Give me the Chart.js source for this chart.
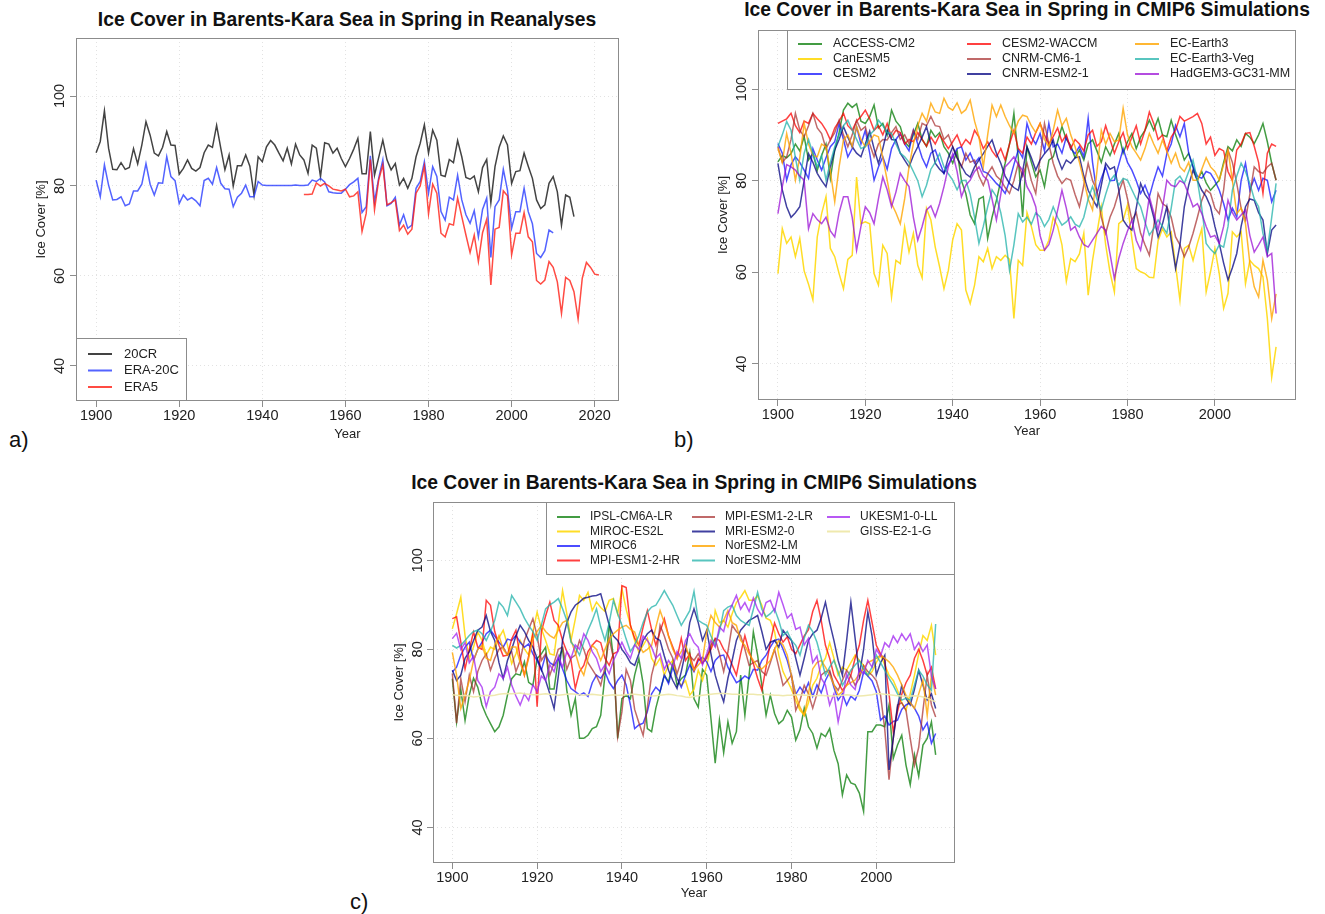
<!DOCTYPE html>
<html>
<head>
<meta charset="utf-8">
<script src="https://cdn.jsdelivr.net/npm/chart.js@4.4.1/dist/chart.umd.min.js"></script>
<style>
  html, body { margin:0; padding:0; background:#fff; width:1325px; height:914px; overflow:hidden;
               font-family:"Liberation Sans", Arial, sans-serif; }
  canvas { position:absolute; }
  .title { position:absolute; transform:translate(-50%,-50%); white-space:nowrap;
           font-weight:bold; font-size:19.3px; color:#111; }
  .tag { position:absolute; transform:translateY(-50%); font-size:22px; color:#111; }
</style>
</head>
<body>

<div class="title" style="left:347px; top:20px;">Ice Cover in Barents-Kara Sea in Spring in Reanalyses</div>
<div class="title" style="left:1027px; top:10px;">Ice Cover in Barents-Kara Sea in Spring in CMIP6 Simulations</div>
<div class="title" style="left:694px; top:483px;">Ice Cover in Barents-Kara Sea in Spring in CMIP6 Simulations</div>
<div class="tag" style="left:9px; top:440px;">a)</div>
<div class="tag" style="left:674px; top:440px;">b)</div>
<div class="tag" style="left:350px; top:902px;">c)</div>

<canvas id="chartA" width="640" height="455" style="left:0px; top:0px;"></canvas>
<canvas id="chartB" width="645" height="450" style="left:680px; top:0px;"></canvas>
<canvas id="chartC" width="620" height="440" style="left:360px; top:470px;"></canvas>

<script>
// ---------- data ----------
const yTicks = [40, 60, 80, 100];
const xTicks = [1900, 1920, 1940, 1960, 1980, 2000, 2020];

const first20CR = 1900, firstERA20C = 1900, firstERA5 = 1950, firstCMIP = 1900;

// panel a: reanalyses
const cr20 = [
  87.4, 89.9, 96.7, 88.4, 83.7, 83.6, 85.2, 83.7, 84.1, 88.3,
  84.9, 89.1, 94.3, 91.3, 87.3, 86.7, 88.6, 92.1, 89.1, 89.0,
  82.6, 83.9, 85.8, 83.9, 83.3, 84.1, 87.4, 89.1, 88.6, 93.5,
  88.4, 83.6, 86.9, 80.0, 84.5, 84.5, 86.9, 84.4, 78.0, 86.5,
  85.4, 88.7, 90.1, 89.1, 87.3, 85.6, 88.4, 84.9, 89.3, 86.9,
  85.8, 82.8, 89.1, 88.4, 82.1, 89.6, 89.3, 87.3, 88.4, 86.1,
  84.3, 86.1, 88.2, 90.6, 82.7, 82.7, 92.1, 82.4, 86.3, 90.2,
  85.8, 83.6, 85.0, 80.2, 81.7, 79.5, 81.7, 86.5, 89.5, 93.6,
  87.3, 92.4, 90.2, 82.4, 82.1, 85.9, 85.2, 90.1, 86.5, 81.9,
  81.5, 82.2, 78.7, 84.1, 85.9, 76.3, 84.3, 88.6, 91.1, 89.1,
  80.6, 83.2, 83.4, 87.3, 84.4, 81.7, 76.9, 75.0, 75.8, 80.6,
  82.1, 78.7, 71.3, 78.0, 77.5, 73.2
];
const era20c = [
  81.3, 77.6, 84.7, 80.2, 76.9, 77.0, 77.6, 75.6, 76.0, 78.9,
  78.9, 80.4, 85.0, 80.4, 78.0, 80.7, 80.6, 86.5, 82.1, 81.2,
  76.1, 78.0, 76.9, 77.4, 76.7, 75.6, 81.2, 81.7, 80.4, 84.1,
  80.6, 79.4, 79.3, 75.4, 77.5, 78.4, 80.2, 77.6, 77.6, 81.0,
  80.2, 80.1, 80.1, 80.1, 80.1, 80.1, 80.1, 80.1, 80.2, 80.1,
  80.1, 80.2, 81.3, 81.0, 81.7, 80.9, 78.7, 78.5, 78.4, 78.4,
  79.3, 80.3, 80.9, 81.7, 74.1, 75.4, 86.7, 76.5, 81.7, 85.8,
  75.6, 76.1, 77.5, 71.3, 73.6, 70.6, 71.3, 79.5, 81.0, 85.4,
  78.4, 84.3, 82.1, 74.3, 72.4, 77.5, 76.9, 82.4, 76.9, 73.6,
  71.7, 74.5, 68.7, 74.8, 77.3, 64.1, 75.4, 76.9, 83.7, 79.1,
  70.6, 74.3, 74.3, 79.5, 74.3, 71.6, 65.0, 64.1, 65.6, 70.2,
  69.6
];
const era5 = [
  78.1, 78.1, 78.2, 80.7, 80.0, 80.6, 80.0, 79.3, 79.1, 78.9,
  79.3, 77.6, 77.8, 78.7, 69.9, 73.9, 85.9, 74.7, 81.3, 84.7,
  75.8, 76.3, 76.9, 70.1, 71.3, 69.3, 70.4, 78.4, 80.0, 84.4,
  73.8, 80.4, 78.4, 69.5, 68.7, 71.6, 71.3, 77.3, 73.2, 69.1,
  65.2, 69.1, 63.2, 69.6, 72.6, 58.0, 70.4, 70.8, 78.9, 77.8,
  64.7, 69.5, 69.5, 74.1, 68.7, 67.6, 59.0, 58.2, 59.1, 63.2,
  61.9, 58.7, 51.7, 59.7, 59.0, 56.5, 50.4, 59.5, 63.0, 61.9,
  60.4, 60.2
];

// panel b: CMIP6 models (1900-2014)
const accessCM2 = [
  84.1, 85.5, 85.0, 85.9, 88.0, 86.5, 89.6, 84.5, 86.0, 82.3,
  85.5, 88.0, 80.5, 86.7, 90.5, 95.4, 96.9, 96.0, 96.8, 93.0,
  92.5, 94.0, 96.5, 91.5, 92.5, 90.0, 95.4, 93.0, 91.8, 88.5,
  87.4, 90.0, 92.5, 89.0, 87.5, 91.0, 89.5, 90.5, 87.4, 86.0,
  83.8, 86.5, 80.0, 77.2, 72.5, 70.6, 76.0, 76.5, 67.4, 72.0,
  75.7, 80.0, 83.8, 88.0, 94.7, 85.0, 72.1, 87.4, 84.0, 80.8,
  82.3, 78.7, 84.5, 85.2, 88.5, 91.8, 89.0, 87.7, 85.0, 86.7,
  84.5, 88.0, 88.9, 86.5, 84.0, 87.4, 85.5, 88.0, 90.3, 86.0,
  88.5, 90.3, 87.0, 89.5, 91.0, 93.2, 91.0, 93.6, 90.0, 89.6,
  93.2, 90.0, 87.5, 84.5, 86.0, 83.0, 80.1, 82.0, 79.5, 77.9,
  79.0, 80.1, 84.0, 87.4, 86.5, 88.9, 87.5, 90.3, 89.5, 88.1,
  90.0, 92.5, 88.5, 83.8, 80.1
];
const canESM5 = [
  59.7, 69.5, 66.3, 67.7, 63.4, 67.4, 60.3, 57.4, 54.0, 67.7,
  72.8, 76.5, 65.2, 63.4, 59.7, 56.4, 62.8, 63.7, 80.8, 70.6,
  71.0, 70.6, 59.7, 57.2, 65.9, 64.1, 54.6, 62.6, 61.9, 69.9,
  64.4, 68.5, 61.5, 58.8, 73.9, 71.4, 65.5, 61.2, 56.4, 60.4,
  67.1, 70.6, 69.2, 56.1, 53.2, 57.2, 63.4, 62.3, 65.2, 60.8,
  63.4, 62.6, 63.7, 62.8, 49.9, 62.6, 61.5, 73.0, 70.0, 66.0,
  64.8, 64.8, 67.0, 72.0, 70.0, 66.0, 58.0, 63.0, 62.3, 64.0,
  68.5, 55.0, 62.6, 68.5, 74.3, 66.0, 60.0, 55.7, 70.6, 71.4,
  74.7, 67.4, 60.8, 60.1, 59.7, 58.9, 58.8, 66.9, 69.5, 67.7,
  68.8, 61.5, 53.9, 65.2, 65.9, 62.6, 66.3, 69.5, 55.7, 60.1,
  65.2, 59.7, 52.1, 55.4, 68.8, 67.7, 68.8, 57.5, 62.6, 61.5,
  60.8, 59.0, 49.9, 37.1, 43.7
];
const cesm2 = [
  88.1, 86.0, 80.1, 83.5, 85.2, 84.0, 82.3, 80.5, 87.0, 84.5,
  82.3, 85.0, 87.4, 88.5, 92.5, 89.0, 85.2, 87.0, 91.8, 88.0,
  91.0, 86.0, 80.1, 83.0, 85.2, 82.5, 87.0, 89.0, 90.3, 88.0,
  86.5, 91.0, 88.0, 85.0, 83.0, 86.0, 86.7, 84.0, 81.6, 83.5,
  85.2, 87.0, 87.4, 84.5, 86.0, 83.8, 85.0, 82.0, 81.6, 80.5,
  79.4, 78.5, 77.2, 80.0, 83.5, 86.7, 85.0, 92.5, 89.5, 88.0,
  90.3, 86.5, 92.5, 87.4, 88.0, 86.0, 89.6, 87.0, 85.9, 87.5,
  85.2, 93.6, 84.0, 77.2, 80.5, 83.0, 80.0, 80.1, 83.5, 87.0,
  84.0, 82.3, 80.0, 77.2, 79.0, 76.5, 80.0, 83.0, 81.0, 85.9,
  88.0, 92.1, 89.6, 92.5, 86.0, 83.0, 81.0, 80.5, 82.0, 81.6,
  80.0, 77.9, 75.0, 71.4, 74.0, 72.1, 80.0, 83.8, 77.9, 80.5,
  77.9, 80.5, 80.1, 75.4, 77.9
];
const cesm2Waccm = [
  92.5, 93.0, 93.5, 94.7, 92.0, 90.5, 93.0, 92.5, 94.7, 93.5,
  92.5, 91.0, 88.9, 91.5, 93.0, 94.7, 92.0, 91.0, 93.0, 94.0,
  95.4, 93.5, 91.0, 92.0, 90.0, 92.5, 89.5, 91.0, 90.5, 88.0,
  89.0, 88.5, 90.5, 89.0, 87.5, 89.5, 88.0, 90.0, 88.5, 87.0,
  88.5, 90.0, 87.5, 89.0, 88.0, 91.0, 89.5, 87.0, 88.5, 86.5,
  85.2, 87.0, 84.5, 88.0, 91.0, 87.0, 86.0, 89.5, 88.0, 90.5,
  92.5, 90.0, 88.0, 89.6, 91.5, 88.5, 90.0, 87.0, 89.0, 88.0,
  86.5, 90.0, 91.0, 87.5, 88.5, 92.0, 89.0, 86.0, 88.5, 90.5,
  87.0, 89.5, 92.0, 88.0, 91.0, 95.0, 92.5, 89.0, 90.0, 86.5,
  89.5, 91.0, 94.0, 93.0, 93.5, 94.0, 94.7, 92.5, 88.0, 89.5,
  85.5, 87.0, 86.5, 82.0, 80.0, 86.7, 88.0, 90.3, 90.5, 87.5,
  84.0, 77.2, 86.0, 88.0, 87.5
];
const cnrmCM61 = [
  87.4, 84.0, 85.2, 89.0, 94.7, 91.0, 89.6, 92.0, 94.7, 91.5,
  90.3, 87.0, 88.9, 90.5, 93.2, 90.0, 87.4, 90.0, 93.2, 91.0,
  91.8, 88.0, 85.2, 88.0, 89.0, 88.9, 90.5, 91.8, 89.0, 90.0,
  88.1, 91.0, 89.0, 92.5, 92.0, 94.0, 92.0, 91.8, 89.0, 90.0,
  87.4, 85.0, 83.0, 86.0, 84.0, 84.5, 81.0, 79.0, 81.5, 83.0,
  81.0, 80.1, 78.5, 77.2, 80.0, 83.8, 81.0, 83.8, 80.0, 77.2,
  85.0, 92.5, 88.0, 83.8, 81.0, 79.4, 80.5, 80.1, 77.0, 74.3,
  79.0, 83.8, 80.0, 77.9, 72.0, 68.5, 72.0, 74.3, 77.5, 80.1,
  76.0, 71.4, 73.0, 68.5, 66.0, 63.7, 70.0, 77.2, 75.0, 74.3,
  72.0, 67.7, 66.0, 63.4, 65.5, 68.5, 72.0, 75.7, 78.0, 77.2,
  74.0, 72.8, 78.0, 86.7, 84.0, 79.4, 74.0, 71.4, 77.0, 83.0,
  82.0, 81.6, 83.0, 83.8, 80.1
];
const cnrmESM21 = [
  83.8, 78.0, 74.3, 72.0, 73.0, 74.3, 80.0, 85.9, 84.0, 81.6,
  80.0, 78.7, 83.0, 86.7, 89.0, 91.8, 89.5, 87.4, 86.0, 85.2,
  88.0, 90.8, 87.0, 83.8, 87.0, 91.0, 89.0, 88.9, 86.0, 84.5,
  83.0, 85.5, 87.4, 89.5, 91.8, 88.0, 83.8, 82.5, 81.6, 85.0,
  87.4, 85.0, 83.2, 81.5, 80.8, 83.0, 84.5, 85.9, 87.5, 88.9,
  86.0, 83.8, 81.0, 79.4, 78.5, 77.9, 82.0, 87.4, 85.0, 82.3,
  84.5, 85.9, 87.0, 88.9, 85.0, 82.5, 84.5, 83.8, 85.0, 85.2,
  81.0, 77.9, 76.0, 74.3, 79.0, 83.8, 82.5, 83.0, 78.0, 71.4,
  70.0, 69.2, 74.0, 79.4, 77.0, 75.7, 72.0, 67.7, 70.5, 74.3,
  67.0, 60.8, 66.0, 74.3, 79.0, 82.3, 80.0, 77.9, 76.5, 74.3,
  70.0, 66.3, 62.0, 58.3, 61.0, 64.1, 70.0, 74.3, 76.0, 75.7,
  73.0, 71.4, 64.1, 69.2, 70.3
];
const ecEarth3 = [
  87.0, 84.0, 90.3, 86.0, 80.1, 85.0, 92.5, 88.0, 85.5, 85.2,
  88.0, 87.4, 82.0, 75.4, 83.0, 88.9, 90.0, 87.5, 91.8, 89.0,
  87.4, 88.5, 90.0, 89.6, 85.0, 80.1, 75.0, 73.0, 70.6, 76.0,
  83.0, 88.0, 92.0, 94.7, 93.0, 96.9, 95.0, 94.7, 98.0, 96.0,
  95.4, 97.0, 94.7, 95.5, 97.6, 93.0, 89.6, 83.0, 90.0, 96.5,
  94.0, 96.5, 94.0, 92.0, 90.3, 93.0, 94.3, 94.0, 92.0, 90.5,
  92.5, 89.0, 87.4, 91.0, 95.4, 92.0, 93.6, 90.0, 87.4, 84.0,
  80.1, 76.0, 73.6, 82.0, 91.0, 88.0, 90.3, 88.5, 88.9, 95.8,
  90.0, 87.4, 86.0, 84.5, 87.0, 90.3, 88.0, 86.0, 88.9, 86.5,
  83.8, 86.0, 83.0, 82.0, 84.0, 80.1, 80.1, 82.5, 85.0, 83.0,
  82.0, 80.1, 83.5, 86.7, 80.0, 72.8, 74.0, 70.6, 62.0, 56.8,
  54.6, 62.6, 58.3, 49.9, 55.3
];
const ecEarth3Veg = [
  87.4, 90.0, 92.9, 91.0, 85.0, 80.1, 86.0, 89.0, 86.0, 83.0,
  85.5, 80.1, 84.0, 87.4, 90.0, 92.0, 93.2, 91.0, 89.0, 87.0,
  87.4, 90.0, 91.0, 93.2, 92.0, 90.5, 90.3, 88.0, 86.0, 85.2,
  84.0, 82.0, 80.0, 76.5, 79.0, 82.5, 84.0, 85.9, 83.0, 81.5,
  80.1, 78.0, 80.0, 80.1, 77.0, 72.0, 66.3, 70.0, 74.3, 78.0,
  76.5, 73.0, 68.0, 60.4, 66.0, 72.8, 71.0, 72.0, 70.5, 73.0,
  72.1, 70.0, 71.5, 74.3, 72.0, 70.3, 71.0, 72.1, 70.5, 69.9,
  72.0, 76.0, 78.7, 76.0, 73.6, 77.0, 80.0, 81.2, 79.0, 80.5,
  80.1, 78.0, 76.0, 74.3, 71.0, 68.1, 69.5, 71.4, 70.0, 68.5,
  74.0, 80.1, 81.0, 79.4, 82.0, 84.5, 80.0, 74.0, 66.3, 65.0,
  64.1, 66.0, 65.5, 70.0, 77.9, 81.0, 83.8, 82.0, 79.4, 76.0,
  74.3, 68.5, 64.8, 72.0, 79.4
];
const hadGEM3 = [
  72.8, 78.7, 83.5, 83.0, 82.3, 81.0, 80.1, 69.5, 72.8, 71.5,
  70.6, 72.0, 69.0, 67.7, 73.0, 76.5, 76.5, 72.0, 64.8, 70.0,
  74.3, 73.0, 70.6, 76.0, 80.8, 78.0, 74.3, 77.5, 81.6, 80.0,
  78.7, 72.0, 67.0, 70.0, 73.6, 74.5, 72.1, 75.0, 78.7, 83.0,
  85.9, 82.0, 76.5, 79.0, 80.1, 82.0, 83.0, 81.0, 80.1, 76.0,
  71.4, 77.0, 83.0, 84.0, 85.2, 83.5, 82.3, 78.7, 77.0, 74.3,
  68.0, 64.8, 66.0, 69.2, 73.5, 77.9, 74.0, 69.2, 70.0, 67.7,
  66.0, 65.5, 67.0, 68.5, 70.0, 69.2, 64.0, 58.6, 63.0, 66.3,
  69.0, 71.4, 67.0, 64.8, 70.0, 76.5, 73.0, 69.2, 74.0, 80.1,
  79.0, 78.7, 80.0, 79.4, 77.0, 74.3, 75.0, 72.8, 70.0, 67.7,
  68.0, 66.3, 70.0, 75.7, 73.0, 71.4, 72.5, 73.6, 68.0, 64.4,
  66.0, 67.7, 63.4, 64.1, 51.0
];

// panel c: CMIP6 models (1900-2014)
const ipslCM6A = [
  73.4, 63.7, 71.0, 64.0, 69.7, 73.5, 71.5, 67.5, 65.2, 63.3,
  61.5, 62.6, 65.2, 69.7, 73.4, 74.5, 74.2, 77.2, 72.6, 71.9,
  77.9, 79.0, 80.5, 71.1, 71.1, 77.9, 80.1, 70.8, 65.2, 68.9,
  60.0, 60.0, 60.7, 62.2, 62.6, 65.2, 74.2, 86.1, 77.9, 60.0,
  68.9, 69.7, 68.9, 74.2, 77.9, 72.3, 62.2, 61.5, 66.8, 70.5,
  74.2, 72.7, 77.2, 71.9, 73.4, 74.2, 79.3, 68.9, 67.0, 75.5,
  74.2, 64.4, 54.4, 64.1, 56.8, 63.7, 58.9, 61.5, 74.2, 65.2,
  74.2, 83.9, 78.7, 71.9, 65.2, 69.7, 65.6, 63.3, 64.1, 66.3,
  64.8, 59.6, 61.9, 66.8, 62.6, 61.1, 57.8, 61.1, 60.4, 62.2,
  57.3, 54.3, 47.3, 51.8, 50.0, 49.6, 47.7, 43.6, 61.5, 61.5,
  63.0, 63.0, 62.6, 67.5, 55.5, 58.5, 60.7, 54.0, 49.6, 56.3,
  51.5, 58.5, 60.0, 63.7, 56.3
];
const mirocES2L = [
  84.6, 88.0, 91.7, 83.1, 77.9, 80.5, 83.9, 82.0, 78.7, 80.5,
  80.0, 82.6, 84.3, 81.0, 76.8, 79.0, 82.0, 80.1, 78.7, 84.0,
  88.4, 84.6, 82.0, 79.0, 78.7, 86.0, 93.2, 88.0, 82.0, 86.8,
  92.1, 91.0, 92.8, 88.7, 90.6, 89.4, 88.5, 91.0, 91.4, 88.0,
  93.6, 89.0, 85.4, 82.0, 79.4, 80.9, 82.5, 78.0, 76.4, 78.0,
  74.2, 76.5, 77.5, 73.5, 71.9, 73.0, 69.7, 71.0, 75.3, 73.0,
  76.4, 80.5, 88.7, 86.0, 86.5, 85.0, 88.0, 90.5, 91.7, 93.2,
  91.0, 91.0, 92.0, 89.9, 87.0, 86.5, 84.0, 78.7, 75.0, 73.0,
  71.0, 68.5, 66.3, 65.2, 68.0, 71.9, 73.5, 76.4, 78.0, 81.5,
  78.0, 74.2, 76.0, 75.3, 77.0, 78.7, 77.5, 76.4, 74.0, 75.0,
  77.0, 78.7, 76.5, 74.2, 73.0, 70.8, 68.0, 66.3, 70.0, 74.2,
  79.0, 83.1, 82.0, 85.4, 78.7
];
const miroc6 = [
  74.9, 76.0, 78.7, 80.5, 81.6, 77.5, 80.0, 81.6, 83.5, 84.3,
  83.0, 81.6, 80.5, 82.3, 82.0, 83.1, 81.6, 80.5, 81.2, 79.0,
  77.5, 75.3, 78.7, 77.0, 76.4, 78.0, 75.6, 73.0, 71.2, 70.5,
  69.7, 70.2, 69.4, 72.5, 74.2, 73.5, 74.9, 72.6, 71.2, 73.0,
  74.2, 72.0, 67.5, 62.2, 63.0, 63.4, 66.0, 70.0, 71.5, 70.5,
  74.2, 72.3, 76.0, 73.5, 71.5, 74.2, 76.5, 75.0, 77.5, 78.2,
  77.2, 75.0, 77.5, 78.5, 78.7, 76.0, 74.2, 72.5, 73.1, 74.0,
  73.4, 75.5, 75.3, 77.5, 78.7, 80.5, 82.0, 82.3, 80.0, 77.5,
  74.0, 69.9, 71.5, 70.2, 72.5, 69.4, 72.0, 70.2, 73.0, 74.9,
  71.5, 68.6, 70.0, 67.5, 69.5, 68.6, 70.8, 74.9, 74.0, 72.9,
  70.5, 64.1, 65.0, 63.0, 63.8, 64.1, 66.5, 67.5, 68.0, 66.8,
  65.0, 61.9, 63.5, 58.9, 61.1
];
const mpiHR = [
  86.9, 87.3, 81.6, 75.6, 80.0, 83.9, 80.5, 80.0, 91.0, 89.9,
  84.0, 80.9, 78.5, 78.7, 82.3, 84.3, 78.0, 74.2, 78.5, 83.5,
  67.1, 84.0, 87.5, 90.6, 86.5, 85.4, 82.0, 79.5, 77.5, 71.2,
  75.0, 76.4, 79.5, 80.9, 82.0, 81.5, 78.0, 76.4, 79.0, 79.5,
  94.3, 93.9, 85.4, 82.5, 80.9, 85.0, 88.7, 84.5, 80.9, 84.0,
  86.9, 83.0, 80.5, 78.0, 82.5, 77.5, 79.0, 75.3, 78.0, 76.8,
  78.5, 80.0, 82.5, 82.0, 80.0, 78.7, 76.5, 74.2, 79.0, 83.1,
  79.5, 76.8, 73.5, 70.8, 76.0, 81.6, 85.9, 83.5, 81.6, 82.8,
  80.0, 79.0, 81.0, 83.0, 84.4, 88.5, 91.0, 86.5, 80.9, 78.0,
  74.2, 72.5, 70.8, 72.0, 74.2, 78.0, 80.9, 86.5, 91.0, 86.0,
  80.9, 79.0, 77.5, 70.0, 61.5, 66.0, 69.9, 72.5, 74.2, 78.0,
  80.0, 77.5, 74.2, 76.0, 71.1
];
const mpiLR = [
  74.6, 63.4, 73.4, 68.2, 74.2, 70.5, 75.0, 77.5, 79.0, 75.3,
  78.0, 80.0, 80.5, 78.7, 79.5, 75.0, 77.5, 82.0, 84.5, 86.9,
  83.0, 77.5, 79.0, 74.2, 77.0, 80.0, 80.5, 75.5, 78.0, 78.7,
  82.0, 80.0, 77.0, 75.5, 74.0, 71.9, 76.0, 82.5, 78.0, 60.4,
  66.0, 75.5, 73.0, 66.5, 63.5, 60.7, 67.0, 74.2, 78.0, 85.4,
  83.0, 80.0, 78.0, 74.5, 77.5, 80.0, 78.5, 77.5, 79.0, 77.0,
  78.0, 81.0, 82.3, 79.0, 75.0, 79.5, 85.4, 84.0, 83.1, 80.0,
  76.4, 77.0, 77.5, 75.0, 74.2, 77.0, 80.0, 76.0, 71.9, 73.0,
  74.2, 66.3, 68.5, 71.9, 70.0, 66.8, 70.0, 74.2, 75.0, 75.3,
  72.0, 70.8, 73.0, 75.3, 74.0, 71.9, 73.5, 76.4, 75.0, 74.2,
  73.0, 69.7, 62.0, 50.7, 60.0, 67.5, 68.0, 66.3, 60.0, 54.0,
  58.0, 66.3, 74.2, 67.5, 64.8
];
const mriESM20 = [
  75.3, 73.0, 74.2, 78.0, 79.5, 82.0, 84.3, 85.0, 87.6, 84.0,
  82.0, 77.0, 73.4, 77.5, 80.0, 83.0, 85.4, 84.0, 82.0, 80.5,
  78.0, 75.5, 73.0, 70.0, 66.7, 74.0, 82.0, 86.0, 88.4, 89.9,
  90.6, 91.5, 91.7, 92.0, 92.1, 92.5, 89.0, 85.4, 83.0, 82.0,
  80.0, 78.7, 77.0, 76.4, 79.0, 82.0, 83.5, 84.3, 82.5, 82.0,
  78.5, 75.3, 73.0, 71.2, 75.0, 79.5, 86.0, 89.1, 86.0, 82.0,
  84.3, 79.0, 74.2, 71.0, 68.2, 73.5, 77.5, 82.0, 84.3, 85.4,
  86.5, 87.0, 87.6, 84.0, 80.0, 81.6, 82.0, 80.5, 84.3, 83.0,
  82.0, 78.0, 74.2, 78.0, 82.0, 83.5, 84.3, 87.0, 90.6, 86.0,
  82.0, 77.5, 74.2, 82.0, 90.6, 82.5, 74.2, 80.0, 88.4, 83.0,
  74.2, 77.0, 78.7, 52.9, 60.0, 67.0, 71.9, 69.0, 67.5, 71.0,
  75.3, 72.0, 68.6, 70.0, 66.7
];
const norESM2LM = [
  79.3, 74.2, 66.7, 69.7, 73.0, 77.5, 80.0, 80.9, 78.0, 77.5,
  81.0, 83.1, 80.0, 78.7, 80.5, 80.5, 77.0, 74.2, 78.0, 82.3,
  84.0, 85.4, 84.0, 83.1, 82.5, 84.3, 86.0, 86.5, 82.0, 79.3,
  76.0, 74.2, 78.0, 80.9, 80.0, 77.5, 80.0, 82.3, 83.5, 84.3,
  85.0, 85.4, 84.5, 83.9, 81.0, 79.3, 80.0, 80.9, 85.0, 88.7,
  86.0, 83.0, 80.0, 78.0, 79.5, 81.0, 78.0, 75.3, 76.5, 77.5,
  84.0, 87.6, 86.0, 85.0, 86.5, 88.7, 86.0, 85.4, 82.0, 80.9,
  79.0, 77.5, 76.0, 75.6, 76.5, 77.5, 80.0, 82.0, 81.0, 78.7,
  74.0, 69.7, 67.0, 65.2, 70.0, 75.6, 77.0, 77.5, 76.0, 74.2,
  72.0, 69.7, 70.5, 71.9, 72.5, 73.1, 74.5, 75.6, 77.0, 77.5,
  78.0, 78.7, 78.0, 77.2, 76.0, 74.2, 72.0, 69.7, 68.0, 66.7,
  70.0, 73.1, 65.2, 74.2, 69.7
];
const norESM2MM = [
  80.9, 80.3, 80.9, 82.0, 83.1, 84.0, 84.3, 83.5, 82.0, 84.0,
  86.5, 90.6, 89.5, 87.6, 92.1, 90.6, 89.1, 87.0, 85.4, 84.0,
  82.0, 85.5, 89.1, 90.0, 90.6, 91.4, 89.1, 86.5, 81.6, 80.5,
  78.7, 81.6, 84.3, 86.5, 89.1, 85.0, 82.0, 86.0, 91.0, 88.0,
  85.4, 82.3, 79.5, 81.0, 83.1, 86.0, 88.4, 89.5, 89.9, 91.5,
  93.2, 91.5, 89.9, 87.6, 85.4, 87.0, 88.7, 93.0, 86.5, 85.9,
  85.4, 83.0, 80.9, 84.0, 88.7, 89.5, 89.9, 87.6, 86.5, 85.9,
  85.4, 89.0, 92.8, 89.0, 87.3, 88.0, 89.1, 86.5, 83.1, 84.0,
  82.0, 80.9, 78.7, 82.5, 85.4, 84.0, 81.6, 78.0, 74.2, 76.0,
  77.5, 75.0, 71.9, 73.5, 75.3, 76.5, 77.5, 75.5, 74.2, 76.0,
  78.7, 77.0, 75.3, 73.5, 71.9, 70.0, 68.6, 69.0, 68.6, 72.0,
  75.3, 74.0, 72.0, 70.8, 85.7
];
const ukesm1 = [
  82.4, 83.6, 80.0, 81.5, 77.0, 78.5, 73.0, 71.5, 67.1, 70.5,
  71.5, 74.5, 73.5, 76.0, 72.0, 69.5, 67.5, 70.0, 68.5, 72.0,
  70.5, 74.0, 73.0, 76.5, 75.0, 78.5, 76.0, 79.5, 78.0, 81.0,
  80.0, 83.5, 82.0, 79.5, 78.0, 75.0, 76.5, 74.5, 77.5, 79.5,
  81.6, 79.5, 78.0, 81.0, 80.0, 83.0, 82.0, 80.5, 78.0, 79.0,
  75.5, 77.5, 76.0, 79.5, 78.0, 82.0, 83.5, 81.5, 80.5, 76.5,
  79.0, 82.0, 80.5, 85.0, 84.0, 88.0, 90.0, 92.1, 89.0, 90.5,
  88.5, 91.5, 89.0, 87.5, 90.5, 91.0, 88.5, 92.8, 90.0, 87.0,
  88.0, 84.5, 85.0, 81.0, 82.5, 77.0, 78.5, 73.5, 72.0, 67.5,
  70.0, 63.7, 68.5, 74.5, 72.0, 71.0, 75.5, 74.5, 77.5, 76.0,
  80.0, 78.5, 81.5, 80.5, 83.0, 81.5, 83.5, 82.0, 83.5, 80.0,
  81.5, 79.5, 81.0, 74.0, 71.1
];
const gissE21G = [
  69.8, 69.7, 69.6, 69.7, 69.5, 69.3, 69.4, 69.6, 69.7, 69.6,
  69.7, 69.9, 70.0, 70.1, 70.0, 70.1, 70.2, 70.0, 69.9, 69.8,
  69.8, 69.9, 70.0, 69.9, 69.8, 69.7, 69.8, 69.9, 70.0, 69.9,
  69.8, 69.7, 69.8, 69.9, 69.8, 69.7, 69.6, 69.7, 69.8, 69.7,
  69.7, 69.8, 69.9, 69.9, 69.8, 69.7, 69.6, 69.5, 69.6, 69.7,
  69.8, 69.9, 69.8, 69.6, 69.5, 69.3, 69.2, 69.4, 69.6, 69.7,
  69.8, 69.9, 70.0, 70.1, 70.1, 70.0, 69.9, 69.9, 69.8, 69.8,
  69.9, 69.9, 69.8, 69.8, 69.9, 69.8, 69.7, 69.7, 69.6, 69.7,
  69.7, 69.8, 69.8, 69.7, 69.7, 69.6, 69.6, 69.7, 69.6, 69.5,
  69.5, 69.6, 69.7, 69.8, 69.7, 69.6, 69.5, 69.6, 69.7, 69.8,
  70.0, 70.0, 69.9, 69.8, 69.7, 69.6, 69.5, 69.4, 69.5, 69.6,
  69.5, 69.3, 69.0, 68.6, 68.2
];

// ---------- helpers ----------
Chart.defaults.font.family = '"Liberation Sans", Arial, sans-serif';
Chart.defaults.color = '#222';

function pts(start, vals) {
  return vals.map((v, i) => ({ x: start + i, y: v }));
}
function series(label, color, start, vals) {
  return { label: label, data: pts(start, vals), borderColor: color, backgroundColor: color,
           borderWidth: 1.5, pointRadius: 0, tension: 0, fill: false };
}

// box around the plot region
const frame = {
  id: 'frame',
  afterDraw(chart) {
    const a = chart.chartArea, ctx = chart.ctx;
    ctx.save();
    ctx.strokeStyle = '#8c8c8c';
    ctx.lineWidth = 1;
    ctx.strokeRect(Math.round(a.left) + 0.5, Math.round(a.top) + 0.5,
                   Math.round(a.right - a.left) - 1, Math.round(a.bottom - a.top) - 1);
    ctx.restore();
  }
};

// R-style legend box placed inside the plot
const boxLegend = {
  id: 'boxLegend',
  afterDatasetsDraw(chart, args, o) {
    if (!o || !o.width) return;
    const a = chart.chartArea, ctx = chart.ctx;
    const x0 = Math.round(o.anchor === 'bl' ? a.left : a.right - o.width);
    const y0 = Math.round(o.anchor === 'bl' ? a.bottom - o.height : a.top);
    ctx.save();
    ctx.fillStyle = '#fff';
    ctx.fillRect(x0, y0, o.width, o.height);
    ctx.strokeStyle = '#8c8c8c';
    ctx.lineWidth = 1;
    ctx.strokeRect(x0 + 0.5, y0 + 0.5, o.width - 1, o.height - 1);
    ctx.font = o.font;
    ctx.textBaseline = 'middle';
    chart.data.datasets.forEach((ds, i) => {
      const col = Math.floor(i / o.rows), row = i % o.rows;
      const lx = x0 + o.colX[col], ly = y0 + o.rowY + row * o.rowH;
      ctx.strokeStyle = ds.borderColor;
      ctx.lineWidth = 2;
      ctx.beginPath();
      ctx.moveTo(lx, ly);
      ctx.lineTo(lx + o.lineLen, ly);
      ctx.stroke();
      ctx.fillStyle = '#222';
      ctx.fillText(ds.label, lx + o.textGap, ly);
    });
    ctx.restore();
  }
};

function makeChart(id, datasets, L) {
  datasets.forEach((d, i) => { d.order = -i; });
  return new Chart(document.getElementById(id), {
    type: 'line',
    data: { datasets: datasets },
    plugins: [frame, boxLegend],
    options: {
      responsive: false,
      animation: false,
      events: [],
      layout: { padding: { top: L.padTop, right: L.padRight, left: 0, bottom: 0 } },
      plugins: { legend: { display: false }, tooltip: { enabled: false }, boxLegend: L.legend },
      scales: {
        x: {
          type: 'linear', min: L.xMin, max: L.xMax,
          afterFit: s => { s.height = L.xHeight; },
          afterBuildTicks: s => { s.ticks = xTicks.filter(v => v >= L.xMin && v <= L.xMax).map(v => ({ value: v })); },
          ticks: { font: { size: L.tickSize }, color: '#222', padding: L.xTickPad, maxRotation: 0,
                   autoSkip: false, callback: v => String(v) },
          grid: { color: '#e2e2e2', tickColor: '#8c8c8c', tickLength: 6, lineWidth: 1 },
          border: { display: false, dash: [1, 3] },
          title: { display: true, text: 'Year', font: { size: L.titleSize }, color: '#222',
                   padding: { top: 0, bottom: L.xTitlePad } }
        },
        y: {
          type: 'linear', min: L.yMin, max: L.yMax,
          afterFit: s => { s.width = L.yWidth; },
          afterBuildTicks: s => { s.ticks = yTicks.map(v => ({ value: v })); },
          ticks: { font: { size: L.tickSize }, color: '#222', padding: L.yTickPad,
                   minRotation: 90, maxRotation: 90, crossAlign: 'center', callback: v => String(v) },
          grid: { color: '#e2e2e2', tickColor: '#8c8c8c', tickLength: 6, lineWidth: 1 },
          border: { display: false, dash: [1, 3] },
          title: { display: true, text: 'Ice Cover [%]', font: { size: L.titleSize }, color: '#222',
                   padding: { top: L.yTitlePad, bottom: 0 } }
        }
      }
    }
  });
}

// ---------- panel a ----------
makeChart('chartA', [
  series('20CR', 'rgba(20,20,20,0.8)', first20CR, cr20),
  series('ERA-20C', 'rgba(40,60,255,0.8)', firstERA20C, era20c),
  series('ERA5', 'rgba(255,30,20,0.8)', firstERA5, era5)
], {
  padTop: 38, padRight: 21, xHeight: 54, yWidth: 76,
  xMin: 1895.16, xMax: 2025.84, yMin: 32.2, yMax: 112.9,
  tickSize: 14.5, titleSize: 13, xTickPad: 0, yTickPad: -2, xTitlePad: 13, yTitlePad: 34,
  legend: { anchor: 'bl', width: 111, height: 63, rows: 3, colX: [12], rowY: 16, rowH: 16.5,
            lineLen: 24, textGap: 36, font: '13px "Liberation Sans", Arial, sans-serif' }
});

// ---------- panel b ----------
makeChart('chartB', [
  series('ACCESS-CM2', 'rgba(34,139,34,0.85)', firstCMIP, accessCM2),
  series('CanESM5', 'rgba(255,215,0,0.85)', firstCMIP, canESM5),
  series('CESM2', 'rgba(0,0,255,0.7)', firstCMIP, cesm2),
  series('CESM2-WACCM', 'rgba(255,0,0,0.75)', firstCMIP, cesm2Waccm),
  series('CNRM-CM6-1', 'rgba(165,42,42,0.7)', firstCMIP, cnrmCM61),
  series('CNRM-ESM2-1', 'rgba(0,0,128,0.75)', firstCMIP, cnrmESM21),
  series('EC-Earth3', 'rgba(255,165,0,0.8)', firstCMIP, ecEarth3),
  series('EC-Earth3-Veg', 'rgba(32,178,170,0.75)', firstCMIP, ecEarth3Veg),
  series('HadGEM3-GC31-MM', 'rgba(148,0,211,0.7)', firstCMIP, hadGEM3)
], {
  padTop: 30, padRight: 29, xHeight: 50, yWidth: 78,
  xMin: 1895.44, xMax: 2018.56, yMin: 32.1, yMax: 112.9,
  tickSize: 14.5, titleSize: 13, xTickPad: 0, yTickPad: -2, xTitlePad: 11, yTitlePad: 36,
  legend: { anchor: 'tr', width: 509, height: 60, rows: 3, colX: [11, 180, 348], rowY: 14, rowH: 15,
            lineLen: 24, textGap: 35, font: '12.5px "Liberation Sans", Arial, sans-serif' }
});

// ---------- panel c ----------
makeChart('chartC', [
  series('IPSL-CM6A-LR', 'rgba(34,139,34,0.85)', firstCMIP, ipslCM6A),
  series('MIROC-ES2L', 'rgba(255,215,0,0.85)', firstCMIP, mirocES2L),
  series('MIROC6', 'rgba(0,0,255,0.7)', firstCMIP, miroc6),
  series('MPI-ESM1-2-HR', 'rgba(255,0,0,0.75)', firstCMIP, mpiHR),
  series('MPI-ESM1-2-LR', 'rgba(165,42,42,0.7)', firstCMIP, mpiLR),
  series('MRI-ESM2-0', 'rgba(0,0,128,0.75)', firstCMIP, mriESM20),
  series('NorESM2-LM', 'rgba(255,165,0,0.8)', firstCMIP, norESM2LM),
  series('NorESM2-MM', 'rgba(32,178,170,0.75)', firstCMIP, norESM2MM),
  series('UKESM1-0-LL', 'rgba(160,32,240,0.75)', firstCMIP, ukesm1),
  series('GISS-E2-1-G', 'rgba(238,232,170,0.95)', firstCMIP, gissE21G)
], {
  padTop: 32, padRight: 25, xHeight: 47, yWidth: 73,
  xMin: 1895.44, xMax: 2018.56, yMin: 32.0, yMax: 113.1,
  tickSize: 14.5, titleSize: 13, xTickPad: 0, yTickPad: -3, xTitlePad: 9, yTitlePad: 32,
  legend: { anchor: 'tr', width: 409, height: 73, rows: 4, colX: [11, 146, 281], rowY: 15, rowH: 14.5,
            lineLen: 23, textGap: 33, font: '12px "Liberation Sans", Arial, sans-serif' }
});
</script>
</body>
</html>
